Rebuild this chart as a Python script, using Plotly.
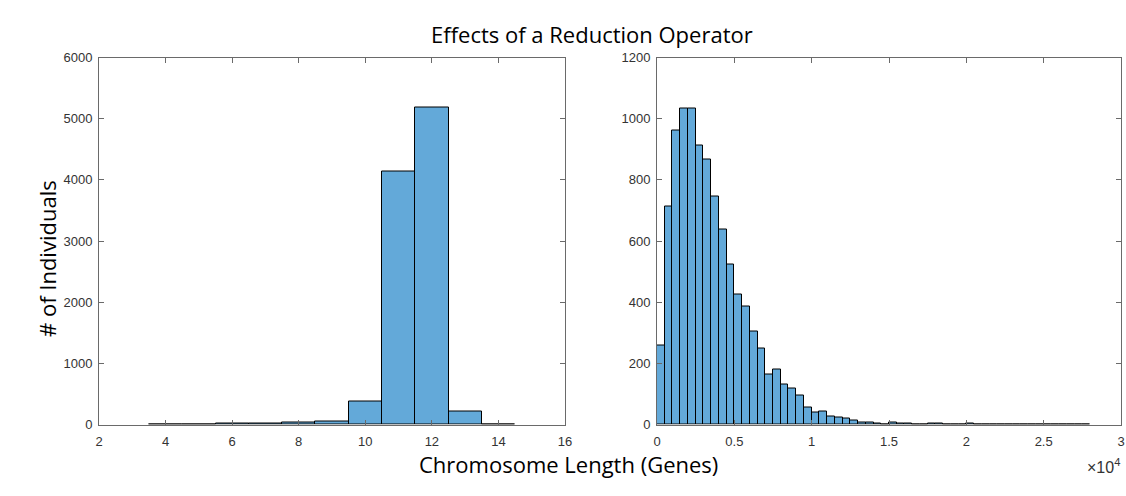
import plotly.graph_objects as go

# Left histogram (chromosome length, genes)
left_centers = [4, 5, 6, 7, 8, 9, 10, 11, 12, 13, 14]
left_counts = [4, 4, 9, 9, 28, 44, 380, 4130, 5180, 215, 5]

# Right histogram (bin width 500, starting at 0)
right_counts = [259, 714, 960, 1034, 1034, 913, 865, 744, 638, 523,
                426, 386, 305, 249, 165, 180, 131, 119, 95, 57,
                38, 41, 25, 22, 19, 13, 8, 7, 3, 1,
                8, 3, 2, 1, 1, 2, 3, 1, 1, 1,
                2, 1, 1, 1, 1, 0, 1, 1, 0, 1,
                1, 0, 1, 1, 0, 1]
right_bin_width = 500
right_centers = [right_bin_width * i + right_bin_width / 2 for i in range(len(right_counts))]

right_tickvals = [0, 5000, 10000, 15000, 20000, 25000, 30000]
right_ticktext = ["0", "0.5", "1", "1.5", "2", "2.5", "3"]

bar_color = "#63a9d9"
axis_color = "#6a6a6a"
tick_font = dict(family="Liberation Sans, Arial, sans-serif", size=13, color="#333333")
label_font = dict(family="Open Sans, sans-serif", size=22, color="black")

fig = go.Figure()
fig.add_trace(go.Bar(x=left_centers, y=left_counts, width=1,
                     marker=dict(color=bar_color, line=dict(color="black", width=1)),
                     xaxis="x", yaxis="y", showlegend=False))
fig.add_trace(go.Bar(x=right_centers, y=right_counts, width=right_bin_width,
                     marker=dict(color=bar_color, line=dict(color="black", width=1)),
                     xaxis="x2", yaxis="y2", showlegend=False))

W, H = 1126, 496
ydom = [(H - 424.5) / H, (H - 57.5) / H]
common = dict(showline=True, linecolor=axis_color, linewidth=1, mirror="ticks",
              ticks="inside", ticklen=5, tickcolor=axis_color, showgrid=False,
              zeroline=False, tickfont=tick_font, automargin=False)

fig.update_layout(
    width=W, height=H,
    template="none",
    margin=dict(l=0, r=0, t=0, b=0, pad=0),
    paper_bgcolor="white", plot_bgcolor="white",
    bargap=0,
    xaxis=dict(domain=[99 / W, 565 / W], range=[2, 16], tickvals=list(range(2, 17, 2)),
               anchor="y", ticklabelstandoff=5, **common),
    yaxis=dict(domain=ydom, range=[0, 6000], dtick=1000, anchor="x",
               ticklabelstandoff=3, **common),
    xaxis2=dict(domain=[657 / W, 1121 / W], range=[0, 30000], tickvals=right_tickvals,
                ticktext=right_ticktext, anchor="y2", ticklabelstandoff=5, **common),
    yaxis2=dict(domain=ydom, range=[0, 1200], dtick=200, anchor="x2",
                ticklabelstandoff=3, **common),
    annotations=[
        dict(text="Effects of a Reduction Operator", x=592 / W, y=(H - 17) / H,
             xref="paper", yref="paper", showarrow=False, font=label_font),
        dict(text="Chromosome Length (Genes)", x=568 / W, y=(H - 481) / H,
             xref="paper", yref="paper", showarrow=False, font=label_font),
        dict(text="# of Individuals", x=30 / W, y=(H - 259) / H, textangle=-90,
             xref="paper", yref="paper", showarrow=False, font=label_font),
        dict(text="×10<sup>4</sup>", x=1122 / W, y=(H - 466) / H, xanchor="right",
             yanchor="middle",
             xref="paper", yref="paper", showarrow=False,
             font=dict(family="Liberation Sans, Arial, sans-serif", size=16, color="#333333")),
    ],
)

fig.write_html("out.html")
